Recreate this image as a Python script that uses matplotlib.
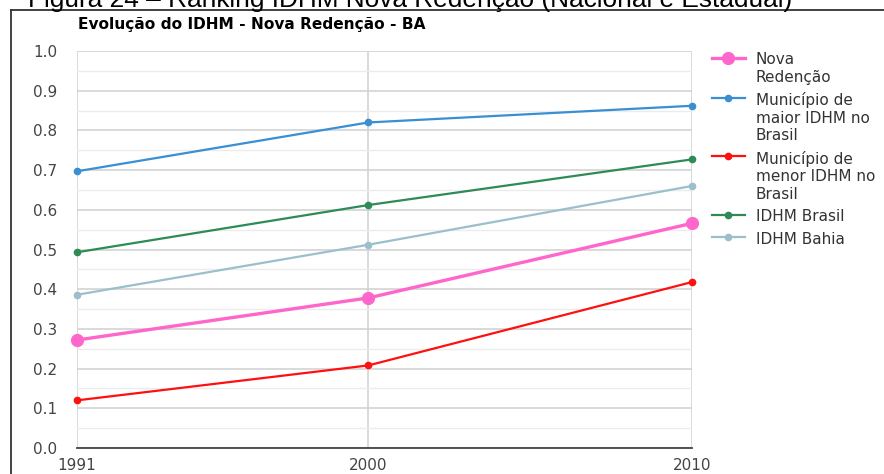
import numpy as np
import matplotlib.pyplot as plt
from matplotlib.lines import Line2D

plt.rcParams['font.family'] = ['DejaVu Sans']

# Data
anos = [1991, 2000, 2010]
nova_redencao = [0.272, 0.378, 0.566]
maior_idhm = [0.697, 0.820, 0.862]
menor_idhm = [0.120, 0.208, 0.418]
idhm_brasil = [0.493, 0.612, 0.727]
idhm_bahia = [0.386, 0.512, 0.660]

series = [
    ('Nova\nRedenção', nova_redencao, '#ff66cc', 2.4, 8.5),
    ('Município de\nmaior IDHM no\nBrasil', maior_idhm, '#3a8fd3', 1.6, 4.5),
    ('Município de\nmenor IDHM no\nBrasil', menor_idhm, '#ff1010', 1.6, 4.5),
    ('IDHM Brasil', idhm_brasil, '#2e8b57', 1.6, 4.5),
    ('IDHM Bahia', idhm_bahia, '#9bbfcc', 1.6, 4.5),
]

W, H = 884, 474
fig = plt.figure(figsize=(W / 100, H / 100), dpi=100)

# Caption, cut off at the top like in the scanned page
fig.text(28 / W, 1 - 7 / H, 'Figura 24 – Ranking IDHM Nova Redenção (Nacional e Estadual)',
         fontsize=18.9, color='black', ha='left', va='baseline', family='Liberation Sans')

# Outer box
fig.add_artist(Line2D([11 / W, 1.0], [1 - 9.5 / H, 1 - 9.5 / H], color='#333333', lw=1.3))
fig.add_artist(Line2D([11 / W, 11 / W], [0, 1 - 9.5 / H], color='#333333', lw=1.3))

fig.text(78 / W, 1 - 25 / H, 'Evolução do IDHM - Nova Redenção - BA',
         fontsize=11.1, fontweight='bold', color='black', ha='left', va='center')

ax = fig.add_axes([77 / W, 1 - 448 / H, (692 - 77) / W, (448 - 51) / H])

for label, vals, color, lw, ms in series:
    ax.plot(anos, vals, color=color, lw=lw, marker='o', markersize=ms,
            label=label, clip_on=False, zorder=3)

ax.set_xlim(1991, 2010)
ax.set_ylim(0, 1.0)
ax.set_xticks(anos)
ax.set_yticks(np.arange(0, 1.01, 0.1))
ax.set_yticks(np.arange(0.05, 1.0, 0.1), minor=True)
ax.yaxis.set_major_formatter(plt.FormatStrFormatter('%.1f'))

ax.grid(True, which='major', axis='both', color='#d0d0d0', lw=1.1, zorder=0)
ax.grid(True, which='minor', axis='y', color='#ececec', lw=1.0, zorder=0)
ax.set_axisbelow(True)

for s in ['top', 'right', 'left']:
    ax.spines[s].set_visible(False)
ax.spines['bottom'].set_color('#444444')
ax.spines['bottom'].set_linewidth(1.3)

ax.tick_params(axis='both', which='both', length=0, labelsize=11, colors='#444444')
ax.tick_params(axis='y', pad=14)
ax.tick_params(axis='x', pad=7)

leg = ax.legend(loc='upper left', bbox_to_anchor=(1.022, 1.012), frameon=False,
                fontsize=11, labelcolor='#333333', handlelength=2.2, handletextpad=0.7,
                labelspacing=0.5, borderaxespad=0)
# align each legend line with the first line of its (multi-line) label
for col in leg._legend_handle_box.get_children():
    for item in col.get_children():
        item.align = 'top'

fig.savefig('out.png', dpi=100)
